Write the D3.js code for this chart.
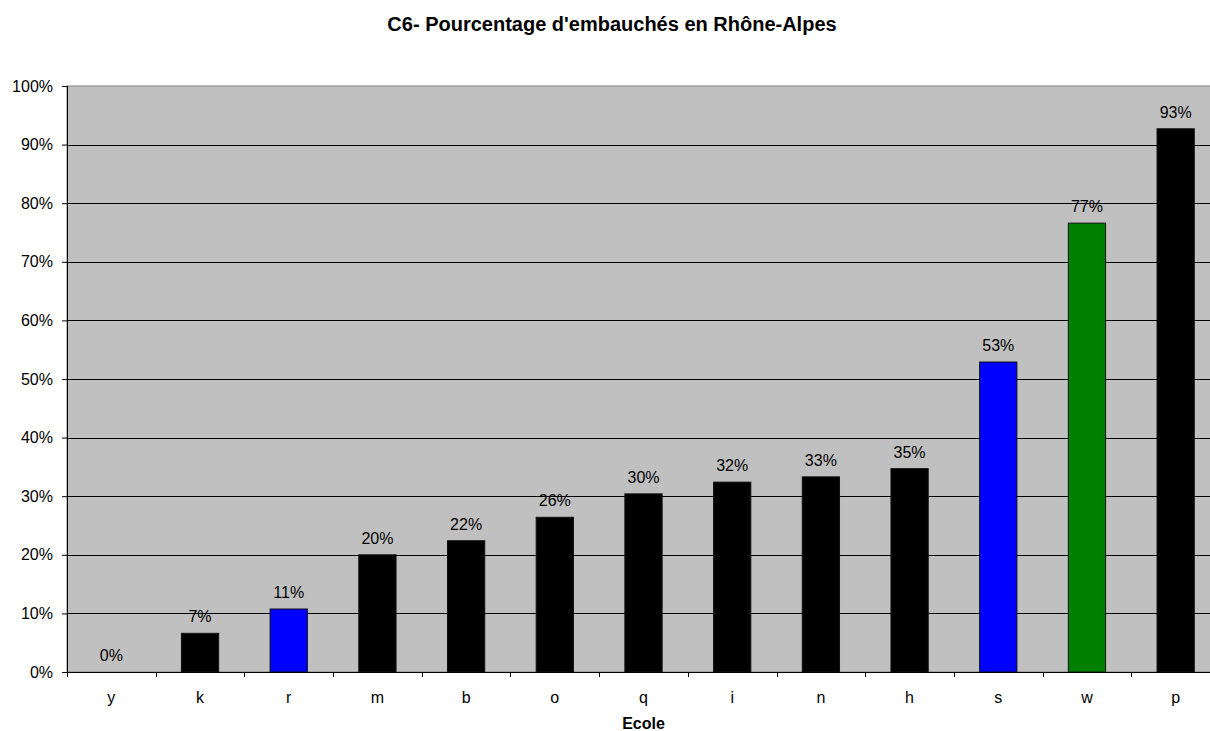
<!DOCTYPE html>
<html>
<head>
<meta charset="utf-8">
<script src="https://cdn.jsdelivr.net/npm/d3@7"></script>
<style>
  body { margin: 0; background: #fff; }
  svg { display: block; font-family: "Liberation Sans", Arial, sans-serif; }
</style>
</head>
<body>
<div id="chart"></div>
<script>
// data
var ecoles = ["y", "k", "r", "m", "b", "o", "q", "i", "n", "h", "s", "w", "p"];
var valeurs = [0, 0.066, 0.1075, 0.20, 0.224, 0.264, 0.304, 0.324, 0.333, 0.347, 0.529, 0.766, 0.927];
var couleurs = ["#000000", "#000000", "#0000FF", "#000000", "#000000", "#000000", "#000000",
                "#000000", "#000000", "#000000", "#0000FF", "#008000", "#000000"];
var yTicks = [0, 0.1, 0.2, 0.3, 0.4, 0.5, 0.6, 0.7, 0.8, 0.9, 1.0];

// set the dimensions and margins of the graph
var margin = {top: 86, right: 0, bottom: 59, left: 67},
    width = 1153,
    height = 586;

var svg = d3.select("#chart").append("svg")
    .attr("width", 1210)
    .attr("height", 731);

// title
svg.append("text")
    .attr("x", 612)
    .attr("y", 31)
    .attr("text-anchor", "middle")
    .style("font-size", "20px")
    .style("font-weight", "bold")
    .text("C6- Pourcentage d'embauchés en Rhône-Alpes");

var g = svg.append("g")
    .attr("transform", "translate(" + margin.left + "," + margin.top + ")");

// scales
var x = d3.scaleBand()
    .domain(ecoles)
    .range([0, width])
    .padding(0);
var y = d3.scaleLinear()
    .domain([0, 1])
    .range([height, 0]);

var barW = x.bandwidth() * 0.42;

// plot background
g.append("rect")
    .attr("x", 0)
    .attr("y", 0)
    .attr("width", width)
    .attr("height", height)
    .attr("fill", "#C0C0C0")
    .attr("stroke", "#808080")
    .attr("stroke-width", 1);

// gridlines
g.selectAll("line.grid")
    .data(yTicks.slice(1, -1))
    .enter().append("line")
    .attr("class", "grid")
    .attr("x1", 0)
    .attr("x2", width)
    .attr("y1", function(d) { return Math.round(y(d)) + 0.5; })
    .attr("y2", function(d) { return Math.round(y(d)) + 0.5; })
    .attr("stroke", "#000")
    .attr("stroke-width", 1);

// bars
g.selectAll("rect.bar")
    .data(valeurs)
    .enter().append("rect")
    .attr("class", "bar")
    .attr("x", function(d, i) { return x(ecoles[i]) + (x.bandwidth() - barW) / 2; })
    .attr("y", function(d) { return y(d); })
    .attr("width", barW)
    .attr("height", function(d) { return height - y(d); })
    .attr("fill", function(d, i) { return couleurs[i]; })
    .attr("stroke", function(d) { return d > 0 ? "#111" : "none"; })
    .attr("stroke-width", 1);

// data labels
g.selectAll("text.lbl")
    .data(valeurs)
    .enter().append("text")
    .attr("class", "lbl")
    .attr("x", function(d, i) { return x(ecoles[i]) + x.bandwidth() / 2; })
    .attr("y", function(d) { return y(d) - 11; })
    .attr("text-anchor", "middle")
    .style("font-size", "16px")
    .attr("fill", "#000")
    .text(function(d) { return Math.round(d * 100) + "%"; });

// y axis
var yAxis = g.append("g")
    .call(d3.axisLeft(y).tickValues(yTicks).tickSize(5).tickPadding(9)
        .tickFormat(function(d) { return Math.round(d * 100) + "%"; }));
yAxis.select(".domain").attr("stroke", "#000").attr("d", "M0.5,0V" + (height + 5));
yAxis.selectAll("text").style("font-size", "16px").attr("fill", "#000").attr("font-family", null);
yAxis.selectAll(".tick line").attr("stroke", "#000");

// x axis
var xAxis = g.append("g")
    .attr("transform", "translate(0," + height + ")")
    .call(d3.axisBottom(x).tickSize(0).tickPadding(20));
xAxis.select(".domain").attr("stroke", "#000").attr("d", "M0," + 0.5 + "H" + width);
xAxis.selectAll("text").style("font-size", "16px").attr("fill", "#000").attr("font-family", null);

// x tick marks at category boundaries
g.selectAll("line.xtick")
    .data(ecoles)
    .enter().append("line")
    .attr("class", "xtick")
    .attr("x1", function(d) { return Math.round(x(d)) + 0.5; })
    .attr("x2", function(d) { return Math.round(x(d)) + 0.5; })
    .attr("y1", height)
    .attr("y2", height + 5)
    .attr("stroke", "#000");

// axis title, centred on the plot area
g.append("text")
    .attr("x", width / 2)
    .attr("y", height + 57)
    .attr("text-anchor", "middle")
    .style("font-size", "16px")
    .style("font-weight", "bold")
    .text("Ecole");
</script>
</body>
</html>
